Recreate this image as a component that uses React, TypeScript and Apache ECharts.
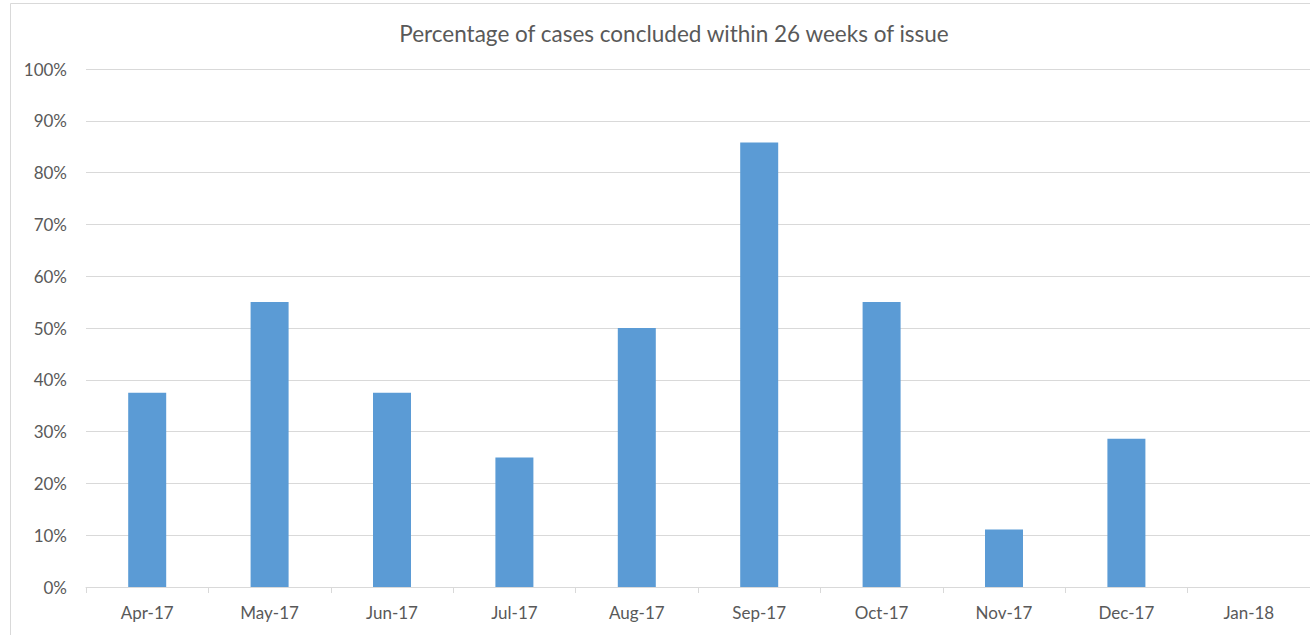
import React, { useEffect, useRef } from "react";
import * as echarts from "echarts";

const categories = ["Apr-17", "May-17", "Jun-17", "Jul-17", "Aug-17", "Sep-17", "Oct-17", "Nov-17", "Dec-17", "Jan-18"];
const values = [37.5, 55, 37.5, 25, 50, 85.8, 55, 11.1, 28.6, 0];
const titleText = "Percentage of cases concluded within 26 weeks of issue";

const FONT = "Lato";
const TEXT = "#595959";
const LINE = "#d9d9d9";

export default function App() {
  const ref = useRef<HTMLDivElement>(null);
  useEffect(() => {
    if (!ref.current) return;
    const chart = echarts.init(ref.current, null, { renderer: "svg" });
    chart.setOption({
      animation: false,
      backgroundColor: "#ffffff",
      title: {
        text: titleText,
        left: 669,
        top: 17,
        textAlign: "center",
        textStyle: { fontFamily: FONT, fontSize: 22.5, fontWeight: "normal", color: TEXT },
      },
      graphic: [
        {
          type: "rect",
          shape: { x: 10.5, y: 3.5, width: 1400, height: 700 },
          style: { fill: "none", stroke: LINE, lineWidth: 1 },
          silent: true,
        },
      ],
      grid: { left: 86, right: -1, top: 69, bottom: 48, containLabel: false },
      xAxis: {
        type: "category",
        data: categories,
        axisLine: { show: true, lineStyle: { color: LINE, width: 1 } },
        axisTick: { show: true, length: 6, lineStyle: { color: LINE } },
        axisLabel: { fontFamily: FONT, fontSize: 17, color: TEXT, margin: 17 },
      },
      yAxis: {
        type: "value",
        min: 0,
        max: 100,
        interval: 10,
        axisLine: { show: false },
        axisTick: { show: false },
        axisLabel: { formatter: "{value}%", fontFamily: FONT, fontSize: 17, color: TEXT, margin: 19 },
        splitLine: { show: true, lineStyle: { color: LINE, width: 1 } },
      },
      series: [
        {
          type: "bar",
          data: values,
          barWidth: 38,
          itemStyle: { color: "#5b9bd5" },
        },
      ],
    });
    return () => chart.dispose();
  }, []);
  return <div ref={ref} style={{ position: "fixed", left: 0, top: 0, width: 1310, height: 635 }} />;
}
